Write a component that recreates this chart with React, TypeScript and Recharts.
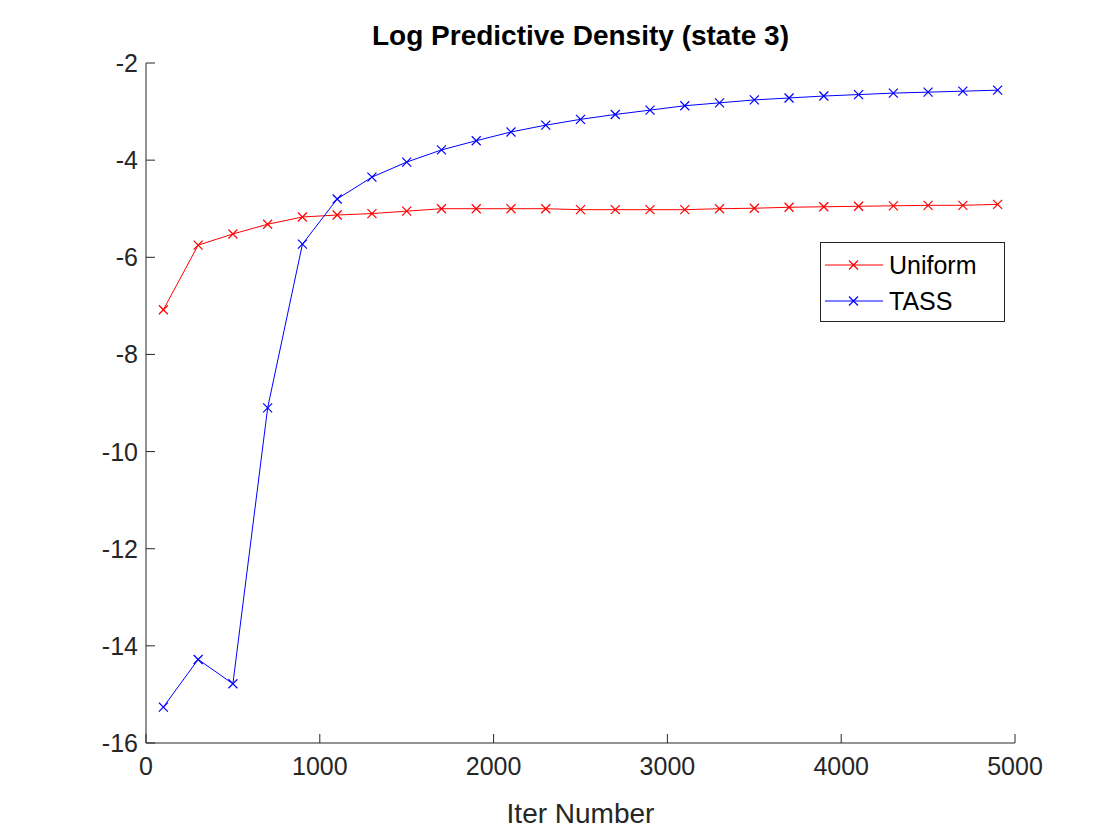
import { LineChart, Line, XAxis, YAxis } from "recharts";

const iters = [100, 300, 500, 700, 900, 1100, 1300, 1500, 1700, 1900, 2100, 2300, 2500, 2700, 2900, 3100, 3300, 3500, 3700, 3900, 4100, 4300, 4500, 4700, 4900];
const uniform = [-7.08, -5.75, -5.52, -5.32, -5.17, -5.13, -5.1, -5.05, -5.0, -5.0, -5.0, -5.0, -5.02, -5.02, -5.02, -5.02, -5.0, -4.99, -4.97, -4.96, -4.95, -4.94, -4.93, -4.93, -4.91];
const tass = [-15.26, -14.28, -14.78, -9.1, -5.73, -4.8, -4.35, -4.04, -3.79, -3.6, -3.42, -3.28, -3.16, -3.06, -2.97, -2.88, -2.82, -2.76, -2.72, -2.68, -2.65, -2.62, -2.6, -2.58, -2.56];
const xTicks = [0, 1000, 2000, 3000, 4000, 5000];
const yTicks = [-16, -14, -12, -10, -8, -6, -4, -2];

const data = iters.map((it, i) => ({ it, uniform: uniform[i], tass: tass[i] }));

const FONT = "'Liberation Sans', Arial, Helvetica, sans-serif";
const INK = "#262626";

const Cross = (color: string) => (props: any) => {
  const { cx, cy, index } = props;
  const s = 4.5;
  return (
    <g key={`c-${color}-${index}`} stroke={color} strokeWidth={1.2}>
      <line x1={cx - s} y1={cy - s} x2={cx + s} y2={cy + s} />
      <line x1={cx - s} y1={cy + s} x2={cx + s} y2={cy - s} />
    </g>
  );
};

const XTick = (props: any) => {
  const { x, y, payload } = props;
  return (
    <g>
      <line x1={x} y1={y} x2={x} y2={y - 9} stroke={INK} />
      <text x={x} y={y + 32} textAnchor="middle" fontSize={25} fill={INK} fontFamily={FONT}>
        {payload.value}
      </text>
    </g>
  );
};

const YTick = (props: any) => {
  const { x, y, payload } = props;
  return (
    <g>
      <line x1={x} y1={y} x2={x + 9} y2={y} stroke={INK} />
      <text x={x - 8} y={y + 9} textAnchor="end" fontSize={25} fill={INK} fontFamily={FONT}>
        {payload.value}
      </text>
    </g>
  );
};

function LegendRow({ color, label }: { color: string; label: string }) {
  return (
    <div style={{ display: "flex", alignItems: "center", height: 36 }}>
      <svg width={66} height={20}>
        <line x1={4} y1={10} x2={62} y2={10} stroke={color} strokeWidth={1.2} />
        <line x1={28} y1={5.5} x2={37} y2={14.5} stroke={color} strokeWidth={1.2} />
        <line x1={28} y1={14.5} x2={37} y2={5.5} stroke={color} strokeWidth={1.2} />
      </svg>
      <span style={{ fontSize: 25, color: "#000", marginLeft: 2 }}>{label}</span>
    </div>
  );
}

export default function App() {
  return (
    <div style={{ position: "absolute", left: 0, top: 0, width: 1120, height: 840, background: "#fff", fontFamily: FONT }}>
      <div style={{ position: "absolute", top: 20, left: 146, width: 869, textAlign: "center", fontSize: 28, fontWeight: "bold", color: "#000" }}>
        Log Predictive Density (state 3)
      </div>
      <LineChart width={1120} height={840} data={data} margin={{ top: 63, right: 105, bottom: 96, left: 145 }}>
        <XAxis
          dataKey="it"
          type="number"
          domain={[0, 5000]}
          ticks={xTicks}
          tick={<XTick />}
          tickSize={0}
          tickMargin={0}
          height={1}
          stroke={INK}
          interval={0}
        />
        <YAxis
          type="number"
          domain={[-16, -2]}
          ticks={yTicks}
          tick={<YTick />}
          tickSize={0}
          tickMargin={0}
          width={1}
          stroke={INK}
          interval={0}
        />
        <Line dataKey="uniform" stroke="#ff0000" strokeWidth={1} dot={Cross("#ff0000")} isAnimationActive={false} />
        <Line dataKey="tass" stroke="#0000ff" strokeWidth={1} dot={Cross("#0000ff")} isAnimationActive={false} />
      </LineChart>
      <div style={{ position: "absolute", top: 798, left: 146, width: 869, textAlign: "center", fontSize: 28, color: INK }}>
        Iter Number
      </div>
      <div style={{ position: "absolute", left: 820, top: 242, width: 185, height: 80, boxSizing: "border-box", border: "1px solid #262626", background: "#fff", padding: "4px 0 0 0" }}>
        <LegendRow color="#ff0000" label="Uniform" />
        <LegendRow color="#0000ff" label="TASS" />
      </div>
    </div>
  );
}
